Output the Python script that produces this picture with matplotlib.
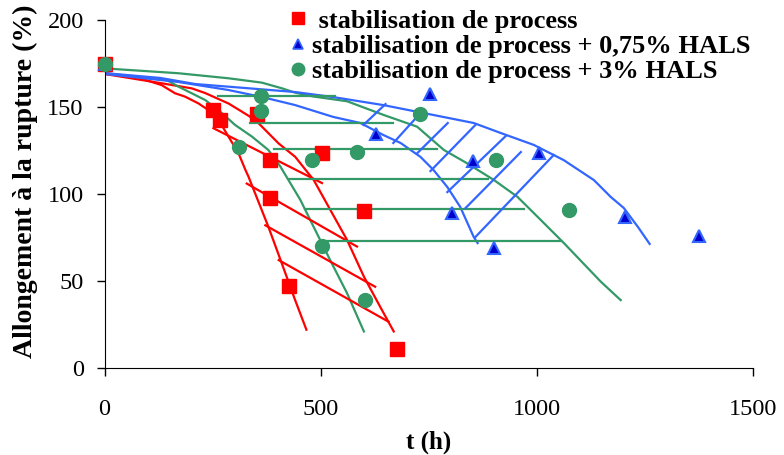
import matplotlib
matplotlib.use('Agg')
import matplotlib.pyplot as plt
from matplotlib.lines import Line2D

# measured points
red_t = [0, 252, 268, 352, 383, 383, 426, 503, 601, 677]
red_v = [175, 148, 142.5, 146, 119.5, 97.5, 47, 123.5, 90, 11]

blue_t = [0, 627, 754, 803, 852, 901, 1005, 1203, 1376]
blue_v = [175, 134.5, 157.5, 89, 119, 69, 123.5, 87, 76]

green_t = [0, 312, 362, 362, 481, 503, 583, 602, 729, 905, 1074]
green_v = [175, 127, 156.5, 147.5, 119.5, 70, 124, 39, 146, 119.5, 91]

# hand drawn trend curves
red_c1_t = [0, 70, 132, 163, 186, 217, 240, 264, 287, 310, 326, 333, 379, 410, 441, 467]
red_c1_v = [169, 167.5, 162.6, 157.9, 156, 152.1, 148.3, 142.5, 132.9, 123.4, 113.8, 110, 81.2, 60.2, 39, 22]
red_c2_t = [0, 133, 202, 233, 287, 318, 349, 379, 403, 441, 484, 522, 561, 600, 638, 669]
red_c2_v = [169, 163.6, 160.7, 158, 152, 147.3, 142.5, 135, 129, 121.4, 108, 91, 73.6, 52.5, 35, 21]

green_c1_t = [0, 144, 171, 233, 272, 302, 341, 379, 407, 453, 484, 522, 561, 600]
green_c1_v = [169.5, 165.5, 161.7, 154, 146.4, 139.7, 133, 125.3, 115.7, 96.6, 81, 62, 43, 21]
green_c2_t = [0, 171, 287, 364, 411, 441, 484, 561, 646, 723, 785, 839, 901, 955, 1009, 1063, 1148, 1194]
green_c2_v = [172.2, 169.4, 166.5, 164, 160.7, 158.2, 156, 153.3, 145.4, 138.7, 125.3, 117.6, 108, 98.4, 85.1, 71.7, 49.6, 39]

blue_c1_t = [0, 170, 286, 365, 441, 529, 592, 645, 685, 731, 761, 793, 823, 854, 863]
blue_c1_v = [169, 164.4, 159.8, 155.7, 151.1, 144.3, 140.8, 133.9, 129.3, 121.3, 113.8, 104, 92.5, 75.3, 71.8]
blue_c2_t = [0, 129, 210, 326, 441, 529, 645, 761, 854, 916, 993, 1062, 1132, 1171, 1201, 1234, 1261]
blue_c2_v = [169.5, 166.7, 163.2, 160.9, 158.6, 155.7, 151.1, 145.4, 140.8, 135.1, 128.2, 119.5, 108, 98.3, 92, 81, 71.3]

# hatch segments: start t, end t, start v, end v
red_h_t0 = [252, 329, 372, 403]
red_h_t1 = [503, 584, 626, 657]
red_h_v0 = [137.8, 106, 82, 62]
red_h_v1 = [106.3, 69.8, 46.7, 26.6]

green_h_t0 = [263, 337, 391, 426, 464, 515]
green_h_t1 = [533, 668, 768, 886, 970, 1055]
green_h_v = [156.3, 141, 125.7, 108.5, 91.6, 72.8]

blue_h_t0 = [599, 668, 724, 754, 793, 835, 858]
blue_h_t1 = [650, 731, 794, 858, 928, 963, 1039]
blue_h_v0 = [139.7, 129.3, 123.6, 113.2, 101.1, 91.9, 75.3]
blue_h_v1 = [151.7, 146.6, 140.8, 139.7, 133.3, 124.1, 122.4]

labels = [' stabilisation de process',
          'stabilisation de process + 0,75% HALS',
          'stabilisation de process + 3% HALS']

red = '#FF0000'
blue = '#3366FF'
dblue = '#0000CC'
green = '#339966'

plt.rcParams['font.family'] = ['Liberation Serif', 'DejaVu Serif']

fig = plt.figure(figsize=(7.84, 4.55), dpi=100)
ax = fig.add_axes([104.5 / 784, 1 - 368 / 455, 648.5 / 784, 348 / 455])

lw = 1.6
ax.plot(red_c1_t, red_c1_v, color=red, lw=lw)
ax.plot(red_c2_t, red_c2_v, color=red, lw=lw)
ax.plot(green_c1_t, green_c1_v, color=green, lw=lw)
ax.plot(green_c2_t, green_c2_v, color=green, lw=lw)
ax.plot(blue_c1_t, blue_c1_v, color=blue, lw=lw)
ax.plot(blue_c2_t, blue_c2_v, color=blue, lw=lw)

for a, b, c, d in zip(red_h_t0, red_h_t1, red_h_v0, red_h_v1):
    ax.plot([a, b], [c, d], color=red, lw=lw)
for a, b, c in zip(green_h_t0, green_h_t1, green_h_v):
    ax.plot([a, b], [c, c], color=green, lw=lw)
for a, b, c, d in zip(blue_h_t0, blue_h_t1, blue_h_v0, blue_h_v1):
    ax.plot([a, b], [c, d], color=blue, lw=lw)

ax.plot(red_t, red_v, 's', color=red, ms=9.5, clip_on=False, zorder=5)
ax.plot(blue_t, blue_v, '^', mfc=dblue, mec=blue, mew=1.5, ms=8.5, clip_on=False, zorder=5)
ax.plot(green_t, green_v, 'o', color=green, ms=10, clip_on=False, zorder=6)

ax.set_xlim(0, 1500)
ax.set_ylim(0, 200)
ax.set_xticks([0, 500, 1000, 1500])
ax.set_yticks([0, 50, 100, 150, 200])
ax.spines['top'].set_visible(False)
ax.spines['right'].set_visible(False)
ax.tick_params(axis='both', direction='out', length=6, width=1, labelsize=17.5)
ax.tick_params(axis='y', pad=9)
ax.tick_params(axis='x', pad=16)

fig.text(25 / 784, 1 - 358 / 455, 'Allongement à la rupture (%)', rotation=90,
         rotation_mode='anchor', ha='left', va='center', fontsize=20, fontweight='bold')
fig.text(429 / 784, 1 - 442 / 455, 't (h)', ha='center', va='center',
         fontsize=18, fontweight='bold')

handles = [Line2D([], [], ls='none', marker='s', color=red, ms=9),
           Line2D([], [], ls='none', marker='^', mfc=dblue, mec=blue, mew=1.2, ms=7),
           Line2D([], [], ls='none', marker='o', color=green, ms=9)]
ax.legend(handles, labels, loc='upper left', bbox_to_anchor=(272 / 784, 1 + 4 / 455),
          bbox_transform=fig.transFigure, frameon=False, borderpad=0,
          handlelength=1.0, handletextpad=0.0, labelspacing=0.07,
          prop={'size': 19, 'weight': 'bold'})

fig.savefig('out.png', dpi=100)
